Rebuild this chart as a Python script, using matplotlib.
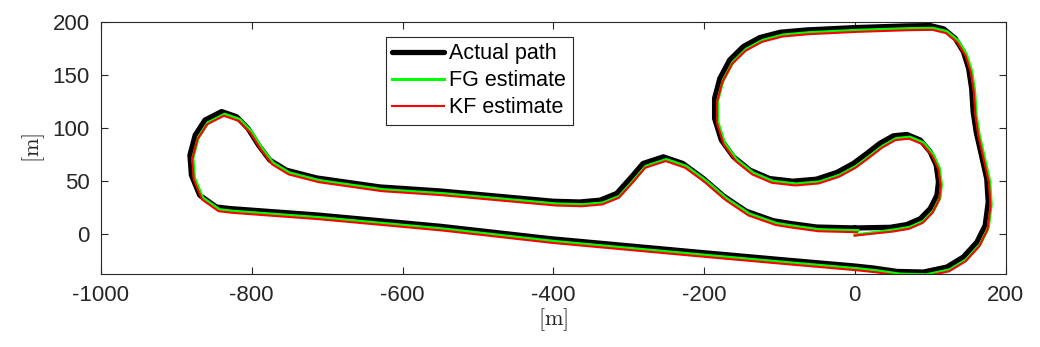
import matplotlib
matplotlib.use("Agg")
import matplotlib.pyplot as plt

plt.rcParams['font.family'] = ['Liberation Sans', 'DejaVu Sans']
plt.rcParams['mathtext.fontset'] = 'cm'
plt.rcParams['axes.unicode_minus'] = False

# Actual path (m)
act_x = [0, 47, 69, 87, 100, 109, 111, 108, 100, 87, 69, 51, 33, 16, -2, -24, -51, -82, -113, -139,
         -161, -177, -186, -186, -179, -166, -148, -126, -99, -64, 0, 69, 100, 118, 133, 144, 151,
         155, 157, 161, 168, 175, 177, 173, 162, 144, 122, 91, 56, 25, 0, -86, -201, -404, -550,
         -714, -829, -847, -869, -880, -882, -875, -862, -840, -820, -805, -791, -776, -754, -714,
         -630, -550, -400, -365, -338, -316, -298, -281, -254, -228, -201, -174, -144, -108, -86,
         -51, 0]
act_y = [5.7, 6.3, 8.9, 14.5, 24, 36.6, 49.2, 64.9, 77.5, 88.6, 93.9, 92.6, 85.4, 76, 66.5, 58,
         51.7, 49.8, 52.3, 60.2, 72.8, 88.6, 109, 128, 146.8, 164.2, 176.8, 185.3, 190.3, 192.5,
         194.7, 196.3, 196.6, 193.5, 184.7, 172, 156.3, 137.4, 115.3, 96.4, 74.4, 52.3, 30.2, 8.2,
         -7.6, -21.7, -31.2, -35.9, -35.3, -32.1, -30.2, -24.9, -17.6, -4.4, 7.3, 18, 24, 25.5,
         36.6, 55.5, 74.4, 93.3, 107.5, 115.5, 110.6, 99.6, 83.8, 69.7, 60.2, 52.9, 44.4, 40.6,
         30.9, 30.2, 31.9, 38.2, 52.4, 66.5, 72.8, 66.5, 52.4, 35.8, 21.5, 12.5, 10, 6.6, 5.7]

# FG estimate (m)
fg_x = [0, 51, 73, 91, 104, 113, 115, 112, 104, 91, 73, 55, 37, 20, 2, -20, -47, -78, -109, -135,
        -157, -173, -182, -182, -175, -162, -144, -122, -95, -60, 4, 73, 104, 122, 137, 148, 155,
        159, 161, 165, 172, 179, 181, 177, 166, 148, 126, 95, 60, 29, 4, -82, -197, -400, -546,
        -710, -825, -843, -865, -876, -878, -871, -858, -836, -816, -801, -787, -772, -750, -710,
        -626, -546, -396, -361, -334, -312, -294, -277, -250, -224, -197, -170, -140, -104, -82,
        -47, 4]
fg_y = [-1, 3.8, 6.4, 12, 21.5, 34.1, 46.7, 62.4, 75, 86.1, 91.4, 90.1, 82.9, 73.5, 64, 55.5,
        49.2, 47.3, 49.8, 57.7, 70.3, 86.1, 106.5, 125.5, 144.3, 161.7, 174.3, 182.8, 187.8, 190,
        192.2, 193.8, 194.1, 191, 182.2, 169.5, 153.8, 134.9, 112.8, 93.9, 71.9, 49.8, 27.7, 5.7,
        -10.1, -24.2, -33.7, -38.4, -37.8, -34.6, -32.7, -27.4, -20.1, -6.9, 4.8, 15.5, 21.5, 23,
        34.1, 53, 71.9, 90.8, 105, 113, 108.1, 97.1, 81.3, 67.2, 57.7, 50.4, 41.9, 38.1,
        28.4, 27.7, 29.4, 35.7, 49.9, 64, 70.3, 64, 49.9, 33.3, 19, 10, 7.5, 4.1, 3.2]

# KF estimate (m)
kf_x = [0, 50, 72, 90, 103, 112, 114, 111, 103, 90, 72, 54, 36, 19, 1, -21, -48, -79, -110, -136,
        -158, -174, -183, -183, -176, -163, -145, -123, -96, -61, 3, 72, 103, 121, 136, 147, 154,
        158, 160, 164, 171, 178, 180, 176, 165, 147, 125, 94, 59, 28, 3, -83, -198, -401, -547,
        -711, -826, -844, -866, -877, -879, -872, -859, -837, -817, -802, -788, -773, -751, -711,
        -627, -547, -397, -362, -335, -313, -295, -278, -251, -225, -198, -171, -141, -105, -83,
        -48, 3]
kf_y = [-1.5, 2.3, 4.9, 10.5, 20, 32.6, 45.2, 60.9, 73.5, 84.6, 89.9, 88.6, 81.4, 72, 62.5, 54,
        47.7, 45.8, 48.3, 56.2, 68.8, 84.6, 105, 124, 142.8, 160.2, 172.8, 181.3, 186.3, 188.5,
        190.7, 192.3, 192.6, 189.5, 180.7, 168, 152.3, 133.4, 111.3, 92.4, 70.4, 48.3, 26.2, 4.2,
        -11.6, -25.7, -35.2, -39.9, -39.3, -36.1, -34.2, -28.9, -21.6, -8.4, 3.3, 14, 20, 21.5,
        32.6, 51.5, 70.4, 89.3, 103.5, 111.5, 106.6, 95.6, 79.8, 65.7, 56.2, 48.9, 40.4, 36.6,
        26.9, 26.2, 27.9, 34.2, 48.4, 62.5, 68.8, 62.5, 48.4, 31.8, 17.5, 8.5, 6, 2.6, 1.7]

x_ticks = [-1000, -800, -600, -400, -200, 0, 200]
y_ticks = [0, 50, 100, 150, 200]

fig = plt.figure(figsize=(10.4, 3.47), dpi=100)
ax = fig.add_axes([0.0971, 0.2095, 0.8698, 0.7271])

ax.plot(act_x, act_y, color='black', lw=3.8, solid_joinstyle='round', solid_capstyle='round',
        label='Actual path')
ax.plot(fg_x, fg_y, color=(0, 1, 0), lw=2.2, solid_joinstyle='round', label='FG estimate')
ax.plot(kf_x, kf_y, color=(1, 0, 0), lw=1.5, solid_joinstyle='round', label='KF estimate')

ax.set_xlim(-1000, 200)
ax.set_ylim(-38, 200)
ax.set_xticks(x_ticks)
ax.set_yticks(y_ticks)
ax.tick_params(direction='in', length=5, width=0.8, top=True, right=True,
               labelsize=16, colors=(0.15, 0.15, 0.15), pad=8)
for s in ax.spines.values():
    s.set_color((0.15, 0.15, 0.15))
    s.set_linewidth(0.8)

ax.set_xlabel(r'$[\mathrm{m}]$', fontsize=16, labelpad=0, color=(0.15, 0.15, 0.15))
ax.set_ylabel(r'$[\mathrm{m}]$', fontsize=16, labelpad=4, color=(0.15, 0.15, 0.15))

leg = ax.legend(loc='upper left', bbox_to_anchor=(0.315, 0.9417), borderaxespad=0,
                fontsize=15.5, fancybox=False, edgecolor=(0.15, 0.15, 0.15), framealpha=1,
                handlelength=2.4, handletextpad=0.25, labelspacing=0.28, borderpad=0.3)
leg.get_frame().set_linewidth(0.8)

fig.savefig('out.png', dpi=100)
